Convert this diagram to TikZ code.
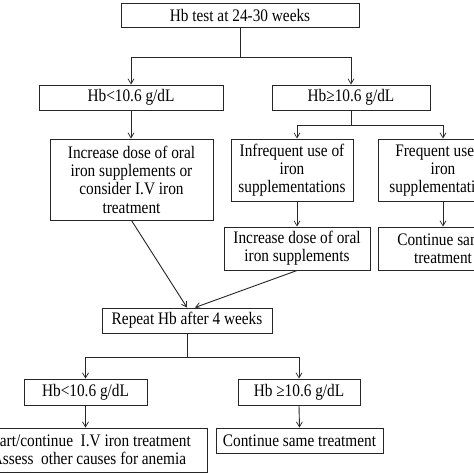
\documentclass[tikz,border=0pt]{standalone}
\usepackage{fontspec}
\setmainfont{Liberation Serif}[FakeStretch=0.87]
\usetikzlibrary{arrows.meta,calc}
\begin{document}
\begin{tikzpicture}[x=1pt,y=-1pt,
  box/.style={draw=black!85,line width=1pt,fill=white,inner sep=0pt,align=center,
    font=\fontsize{17.6}{18.3}\selectfont,text=black},
  conn/.style={draw=black!85,line width=0.9pt},
  arr/.style={conn,-{Straight Barb[length=5pt,width=6pt,line width=0.7pt]}}]
\useasboundingbox (0,0) rectangle (474,474);
\fill[white] (0,0) rectangle (474,474);
\clip (0,0) rectangle (474,474);
% nodes
\node[box,minimum width=238pt,minimum height=24pt] (top) at (240,15) {Hb test at 24-30 weeks};
\node[box,minimum width=184pt,minimum height=25pt] (l1) at (131,97.5) {Hb<10.6 g/dL};
\node[box,minimum width=158pt,minimum height=25pt] (r1) at (351,97.5) {Hb≥10.6 g/dL};
\node[box,minimum width=163pt,minimum height=81pt] (l2) at (131.5,179.5) {Increase dose of oral\\iron supplements or\\consider I.V iron\\treatment};
\node[box,minimum width=122pt,minimum height=62pt] (m2) at (292,170) {Infrequent use of\\iron\\supplementations};
\node[box,minimum width=130pt,minimum height=62pt] (rr2) at (443,170) {Frequent use of\\iron\\supplementations};
\node[box,minimum width=146pt,minimum height=43pt] (m3) at (297,248.5) {Increase dose of oral\\iron supplements};
\node[box,minimum width=130pt,minimum height=43pt] (rr3) at (443,248.5) {Continue same\\treatment};
\node[box,minimum width=170pt,minimum height=25pt] (rep) at (187,320.5) {Repeat Hb after 4 weeks};
\node[box,minimum width=123pt,minimum height=26pt] (b1) at (85.5,392) {Hb<10.6 g/dL};
\node[box,minimum width=122pt,minimum height=26pt] (b2) at (299,392) {Hb ≥10.6 g/dL};
\node[box,minimum width=236pt,minimum height=44pt] (b3) at (89,450) {Start/continue\ \ I.V iron treatment\\Assess\ \ other causes for anemia};
\node[box,minimum width=167pt,minimum height=25pt] (b4) at (299.5,440.5) {Continue same treatment};
% junctions
\coordinate (j1) at (240,57);
\coordinate (j2) at (351,125);
\coordinate (j3) at (187,357);
% connectors
\draw[conn] (top.south) -- (j1);
\draw[arr] (j1) -| (l1.north);
\draw[arr] (j1) -| (r1.north);
\draw[arr] (l1.south) -- (l1.south |- l2.north);
\draw[conn] (r1.south) -- (j2);
\draw[arr] (j2) -| (m3.north |- m2.north);
\draw[arr] (j2) -| (rr2.north);
\draw[arr] (m3.north |- m2.south) -- (m3.north);
\draw[arr] (rr2.south) -- (rr3.north);
\draw[arr] (l2.south) -- (rep.north);
\draw[arr] (m3.south) -- ([xshift=8pt]rep.north);
\draw[conn] (rep.south) -- (j3);
\draw[arr] (j3) -| (b1.north);
\draw[arr] (j3) -| (b2.north);
\draw[arr] (b1.south) -- (b1.south |- b3.north);
\draw[arr] (b2.south) -- (b4.north);
\end{tikzpicture}
\end{document}
